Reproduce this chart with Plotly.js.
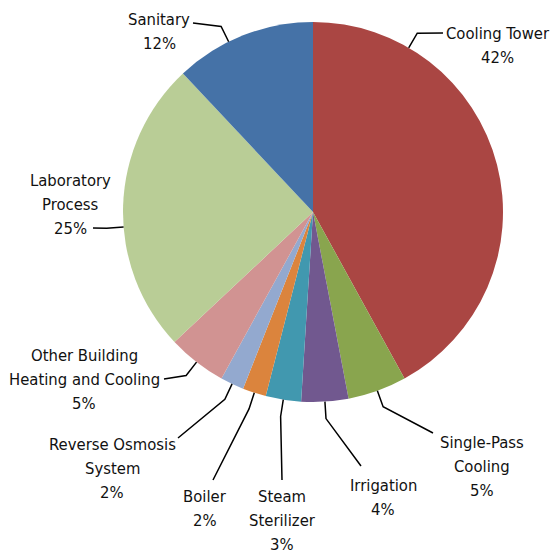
<!DOCTYPE html>
<html>
<head>
<meta charset="utf-8">
<script src="https://cdn.plot.ly/plotly-3.0.1.min.js"></script>
<style>html,body{margin:0;padding:0;background:#fff;}#chart{width:553px;height:555px;}</style>
</head>
<body>
<div id="chart"></div>
<script>
// ---- data ----
var categories = ["Cooling Tower", "Single-Pass Cooling", "Irrigation", "Steam Sterilizer", "Boiler",
                  "Reverse Osmosis System", "Other Building Heating and Cooling", "Laboratory Process", "Sanitary"];
var labelLines = [["Cooling Tower"], ["Single-Pass", "Cooling"], ["Irrigation"], ["Steam", "Sterilizer"], ["Boiler"],
                  ["Reverse Osmosis", "System"], ["Other Building", "Heating and Cooling"], ["Laboratory", "Process"], ["Sanitary"]];
var values = [42, 5, 4, 3, 2, 2, 5, 25, 12];
var colors = ["#AA4643", "#89A54E", "#71588F", "#4198AF", "#DB843D", "#93A9CF", "#D19392", "#B9CD96", "#4572A7"];

// ---- label layout (pixel centre x / first-line y of label text, leader line end; fraction within slice for line start) ----
var labelCfg = [
  {tx: 498, ty: 33,  lx: 443, ly: 33,  frac: 0.2},
  {tx: 482, ty: 442, lx: 433, ly: 433, frac: 0.5},
  {tx: 383, ty: 485, lx: 361, ly: 466, frac: 0.5},
  {tx: 282, ty: 496, lx: 282, ly: 480, frac: 0.5},
  {tx: 205, ty: 496, lx: 213, ly: 480, frac: 0.5},
  {tx: 112, ty: 444, lx: 178, ly: 438, frac: 0.5},
  {tx: 84,  ty: 355, lx: 164, ly: 379, frac: 0.5},
  {tx: 70,  ty: 180, lx: 93,  ly: 228, frac: 0.43},
  {tx: 159, ty: 20,  lx: 193, ly: 23,  frac: 0.39}
];
var LINE_H = 24;

var W = 553, H = 555, cx = 313, cy = 212, R = 190;
function px(x){ return x / W; }
function py(y){ return 1 - y / H; }

var total = values.reduce(function(a,b){return a+b;}, 0);
var annotations = [], shapes = [];
var acc = 0;
var font = {family: "DejaVu Sans Condensed, sans-serif", size: 16.5, color: "#111"};
for (var i = 0; i < values.length; i++) {
  var start = acc / total * 360, span = values[i] / total * 360;
  acc += values[i];
  var c = labelCfg[i];
  var ang = (start + c.frac * span) * Math.PI / 180;
  var ex = cx + R * Math.sin(ang), ey = cy - R * Math.cos(ang);
  var r2 = R + 17;
  var bx = cx + r2 * Math.sin(ang), by = cy - r2 * Math.cos(ang);
  shapes.push({type: "path", xref: "paper", yref: "paper",
    path: "M " + px(ex) + "," + py(ey) + " L " + px(bx) + "," + py(by) + " L " + px(c.lx) + "," + py(c.ly),
    line: {color: "#000", width: 1.5}});
  var lines = labelLines[i].concat([Math.round(values[i] / total * 100) + "%"]);
  for (var k = 0; k < lines.length; k++) {
    annotations.push({xref: "paper", yref: "paper", x: px(c.tx), y: py(c.ty + k * LINE_H),
      xanchor: "center", yanchor: "middle", align: "center", showarrow: false,
      text: lines[k], font: font});
  }
}

var trace = {
  type: "pie", labels: categories, values: values,
  sort: false, direction: "clockwise", rotation: 0,
  marker: {colors: colors, line: {width: 0}},
  textinfo: "none", hoverinfo: "label+percent",
  domain: {x: [px(cx - R), px(cx + R)], y: [py(cy + R), py(cy - R)]}
};

Plotly.newPlot("chart", [trace], {
  width: W, height: H, margin: {l: 0, r: 0, t: 0, b: 0},
  showlegend: false, paper_bgcolor: "#fff",
  annotations: annotations, shapes: shapes
}, {displayModeBar: false, staticPlot: true});
</script>
</body>
</html>
